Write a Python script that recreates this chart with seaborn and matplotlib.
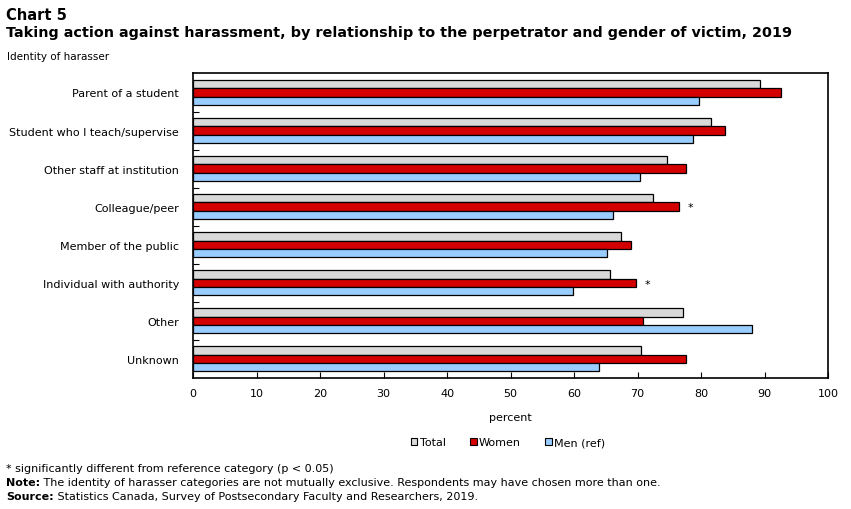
import numpy as np
import pandas as pd
import seaborn as sns
import matplotlib.pyplot as plt
from matplotlib.patches import Patch

# data
categories = ["Parent of a student", "Student who I teach/supervise",
              "Other staff at institution", "Colleague/peer",
              "Member of the public", "Individual with authority",
              "Other", "Unknown"]
total = [89.3, 81.5, 74.6, 72.4, 67.4, 65.7, 77.1, 70.6]
women = [92.6, 83.7, 77.6, 76.5, 68.9, 69.7, 70.9, 77.6]
men = [79.7, 78.7, 70.4, 66.1, 65.2, 59.8, 88.0, 64.0]
women_signif = [False, False, False, True, False, True, False, False]

groups = ["Total", "Women", "Men (ref)"]
colors = ["#d9d9d9", "#d40000", "#99ccff"]

df = pd.DataFrame({
    "category": categories * 3,
    "group": [g for g in groups for _ in categories],
    "value": total + women + men,
})

sns.set_style("white")
plt.rcParams["font.family"] = ["DejaVu Sans"]
for k in ["text.color", "axes.labelcolor", "xtick.color", "ytick.color"]:
    plt.rcParams[k] = "black"

fig = plt.figure(figsize=(8.51, 5.1), dpi=100)
ax = fig.add_axes([0.2268, 0.257, 0.7462, 0.597])

sns.barplot(data=df, y="category", x="value", hue="group", orient="h",
            palette=colors, hue_order=groups, order=categories,
            width=0.66, saturation=1, edgecolor="black", linewidth=0.9,
            legend=False, ax=ax)

# asterisks for significant differences (women vs men)
for i, sig in enumerate(women_signif):
    if sig:
        ax.text(women[i] + 1.8, i + 0.02, "*", ha="center", va="center",
                fontsize=8)

ax.set_xlim(0, 100)
ax.set_ylim(len(categories) - 0.5, -0.5)
ax.set_xticks(np.arange(0, 101, 10))
ax.tick_params(axis="x", direction="in", length=4, width=0.8,
               labelsize=8, pad=7, bottom=True)
ax.tick_params(axis="y", which="major", length=0, labelsize=8, pad=10)
ax.set_yticks(np.arange(0.5, len(categories) - 1, 1), minor=True)
ax.tick_params(axis="y", which="minor", direction="in", length=4,
               width=0.8, left=True)
for s in ax.spines.values():
    s.set_color("black")
    s.set_linewidth(1.2)

ax.set_ylabel("")
ax.set_xlabel("percent", fontsize=8, labelpad=10)

handles = [Patch(facecolor=c, edgecolor="black", linewidth=0.8) for c in colors]
fig.legend(handles, groups, loc="center", bbox_to_anchor=(0.597, 0.131),
           ncol=3, frameon=False, fontsize=8, handlelength=0.6,
           handleheight=0.6, handletextpad=0.2, columnspacing=2.2)

fig.text(0.007, 0.985, "Chart 5", fontsize=10.5, fontweight="bold",
         va="top", ha="left")
fig.text(0.007, 0.950,
         "Taking action against harassment, by relationship to the perpetrator and gender of victim, 2019",
         fontsize=10.4, fontweight="bold", va="top", ha="left")
fig.text(0.008, 0.888, "Identity of harasser", fontsize=7.5,
         va="center", ha="left")

fig.text(0.007, 0.080, "* significantly different from reference category (p < 0.05)",
         fontsize=8, va="center")
notes = [("Note:", " The identity of harasser categories are not mutually exclusive. Respondents may have chosen more than one.", 0.053),
         ("Source:", " Statistics Canada, Survey of Postsecondary Faculty and Researchers, 2019.", 0.026)]
for head, body, y in notes:
    t = fig.text(0.007, y, head, fontsize=8, fontweight="bold", va="center")
    ax.annotate(body, xy=(1, 0.5), xycoords=t, va="center", ha="left",
                fontsize=8, annotation_clip=False)

fig.savefig("out.png", dpi=100)
